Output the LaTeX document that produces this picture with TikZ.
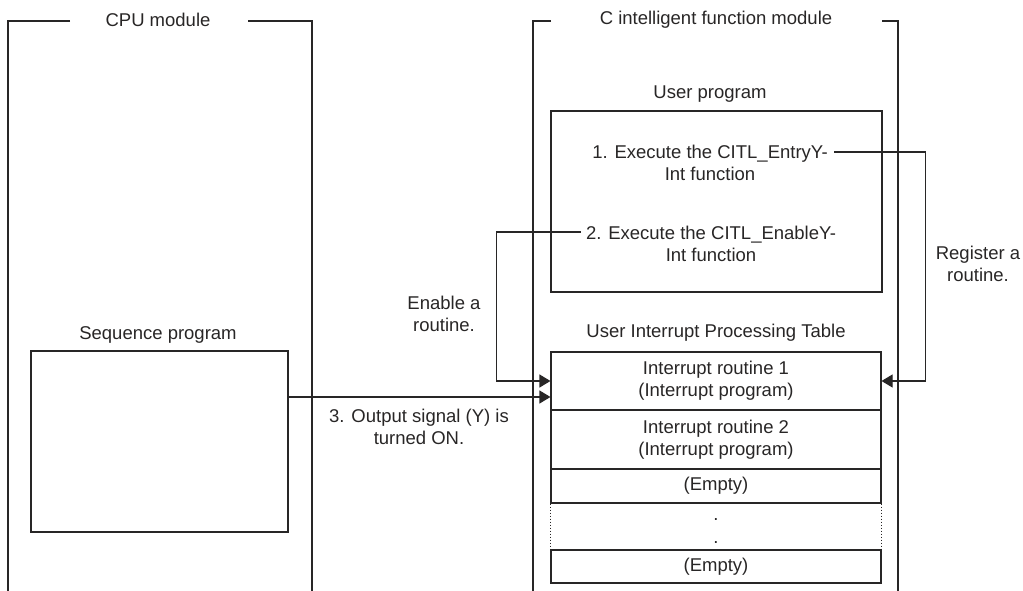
\documentclass[tikz,border=0pt]{standalone}
\usepackage{fontspec}
\setmainfont{Liberation Sans}
\usetikzlibrary{arrows.meta}
\definecolor{ink}{RGB}{40,38,38}
\begin{document}
\begin{tikzpicture}[x=1pt,y=-1pt,line width=1.1pt,draw=ink,
  lbl/.style={font=\fontsize{18.5}{22}\selectfont,text=ink,align=center,inner sep=0pt},
  box/.style={draw=ink,line width=1.1pt,inner sep=0pt,font=\fontsize{18.5}{22}\selectfont,text=ink,align=center},
  arr/.style={draw=ink,-{Triangle[length=11pt,width=13pt]}}]
\useasboundingbox (0,0) rectangle (1023,591);
% CPU module frame
\node[lbl] (cpu) at (158,20) {CPU module};
\draw (70,21) -- (8,21) -- (8,591);
\draw (248,21) -- (312,21) -- (312,591);
% C intelligent function module frame
\node[lbl] (cim) at (716,20) {C intelligent function module};
\draw (551,21) -- (533,21) -- (533,591);
\draw (882,21) -- (898,21) -- (898,591);
% Sequence program
\node[lbl] (seql) at (158,335) {Sequence program};
\node[box,minimum width=257,minimum height=181] (seq) at (159.5,441.5) {};
% User program
\node[lbl] (upl) at (710,94) {User program};
\node[box,minimum width=331,minimum height=181] (up) at (716.5,201.5) {};
\node[lbl] (t1) at (710,162.5) {1. Execute the CITL\_EntryY-\\Int function};
\node[lbl] (t2) at (711,243.5) {2. Execute the CITL\_EnableY-\\Int function};
% Table
\node[lbl] (tabl) at (716,333) {User Interrupt Processing Table};
\node[box,minimum width=330,minimum height=58] (ir1) at (716,381) {Interrupt routine 1\\(Interrupt program)};
\node[box,minimum width=330,minimum height=59] (ir2) at (716,439.5) {Interrupt routine 2\\(Interrupt program)};
\node[box,minimum width=330,minimum height=34] (e1) at (716,486) {(Empty)};
\node[box,minimum width=330,minimum height=33] (e2) at (716,566.5) {(Empty)};
\draw[dotted,line width=1pt] (e1.south west) -- (e2.north west);
\draw[dotted,line width=1pt] (e1.south east) -- (e2.north east);
\node[lbl,anchor=base] (d1) at (716,520) {.};
\node[lbl,anchor=base] (d2) at (716,543) {.};
% Labels
\node[lbl] (reg) at (978,263.5) {Register a\\routine.};
\node[lbl] (ena) at (444,314) {Enable a\\routine.};
\node[lbl] (out) at (419,426.5) {3. Output signal (Y) is\\turned ON.};
% Connectors
\draw[arr] ([xshift=6pt,yshift=10.5pt]t1.east) -| ([xshift=44pt]ir1.east) -- (ir1.east);
\draw[arr] ([xshift=-5pt,yshift=11.5pt]t2.west) -| ([xshift=-54pt]ir1.west) -- (ir1.west);
\coordinate (o) at ([yshift=-16pt]ir1.west);
\draw[arr] (seq.east |- o) -- (o);
\end{tikzpicture}
\end{document}
